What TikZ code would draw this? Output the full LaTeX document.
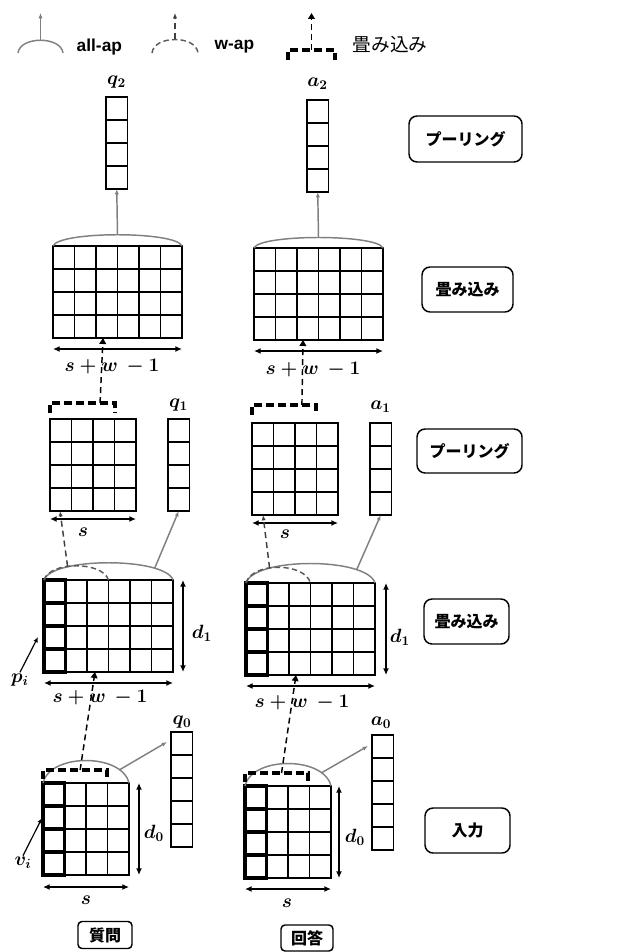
\documentclass[tikz,border=0pt]{standalone}
\usepackage{fontspec}
\setsansfont{Liberation Sans}
\newfontfamily\jp{Noto Sans CJK JP}
\usetikzlibrary{arrows.meta,calc}

\newcommand\cellw{16.125pt}
\newcommand\cellh{17.25pt}
% cell lines inside a feature map node: name, columns, rows
\newcommand\gridof[3]{%
  \foreach \i in {1,...,#2} \draw[line width=1pt] ($(#1.north west)+(\i*21.5,0)$) -- ++(0,#3*23);
  \foreach \j in {1,...,#3} \draw[line width=1pt] ($(#1.north west)+(0,\j*23)$) -- ++(#2*21.5,0);}
% thick first column
\newcommand\boldof[2]{%
  \foreach \j in {1,...,#2} \draw[line width=2.4pt] ($(#1.north west)+(0,\j*23-23)$) rectangle ++(21.5,23);}
\newcommand\swlen{$s+w\,-1$}
\tikzset{
  fm/.style 2 args={draw,line width=1pt,inner sep=0pt,outer sep=0pt,anchor=north west,
    minimum width=#1*\cellw,minimum height=#2*\cellh},
  stage/.style={draw,line width=1.1pt,rounded corners=6pt,font=\jp\bfseries\fontsize{12}{14}\selectfont},
  lbl/.style={font=\boldmath\fontsize{14}{16}\selectfont,inner sep=1pt},
  allap/.style={draw=black!50,line width=1.1pt},
  wap/.style={draw=black!65,line width=1.1pt,dash pattern=on 4pt off 2.5pt},
  allto/.style={black!50,line width=1.1pt,-{Latex[length=4pt,width=3.2pt]}},
  wapto/.style={black!75,line width=1.1pt,dash pattern=on 4.5pt off 3pt,-{Latex[length=4pt,width=3.2pt]}},
  convto/.style={line width=1.1pt,dash pattern=on 4.5pt off 3pt,-{Triangle[length=4.5pt,width=5pt]}},
  conv/.style={line width=2.4pt,dash pattern=on 6pt off 3pt},
  dim/.style={line width=1.1pt,{Latex[length=5pt,width=4.5pt]}-{Latex[length=5pt,width=4.5pt]}},
  pointer/.style={line width=0.9pt,-{Latex[length=4pt,width=3.5pt]}}
}

\begin{document}
\begin{tikzpicture}[x=0.75pt,y=-0.75pt]
\useasboundingbox (0,0) rectangle (622,952);
% legend
\draw[allap] (18,53) .. controls (20,36) and (61,36) .. coordinate[pos=0.5] (legall) (63,53);
\coordinate (legalltip) at (40.5,13);
\draw[allto] (legall) -- (legalltip);
\node[anchor=west,font=\sffamily\bfseries\fontsize{13}{15}\selectfont] (legalltxt) at (72,47) {all-ap};
\draw[wap] (152,53) .. controls (154,35) and (196,35) .. coordinate[pos=0.5] (legw) (198,53);
\coordinate (legwtip) at (175,13);
\draw[wapto] (legw) -- (legwtip);
\node[anchor=west,font=\sffamily\bfseries\fontsize{13}{15}\selectfont] (legwtxt) at (210,47) {w-ap};
\draw[conv] (288,60) -- (288,50) -- coordinate[pos=0.5] (legc) (335,50) -- (335,60);
\coordinate (legctip) at (311.5,13);
\draw[convto] (legc) -- (legctip);
\node[anchor=west,font=\jp\fontsize{14}{16}\selectfont] (legctxt) at (348,45) {畳み込み};

% pooling 2
\node[fm={1}{4}] (q2) at (106,97) {};
\gridof{q2}{1}{4}
\node[lbl] (q2l) at (116.5,82) {$q_2$};
\node[fm={1}{4}] (a2) at (307,100) {};
\gridof{a2}{1}{4}
\node[lbl] (a2l) at (317.5,84) {$a_2$};
\node[stage,minimum width=84.75pt,minimum height=34.5pt] (pool2) at (465.5,139) {プーリング};

% convolution 2
\node[fm={6}{4}] (c2q) at (53,246) {};
\gridof{c2q}{6}{4}
\draw[allap] (c2q.north west) .. controls +(6,-15) and +(-6,-15) .. coordinate[pos=0.5] (c2qall) (c2q.north east);
\draw[allto] (c2qall) -- (q2.south);
\draw[dim] ([yshift=-8.25pt]c2q.south west) -- ([yshift=-8.25pt]c2q.south east);
\node[lbl] (c2qw) at (112,367) {\swlen};
\node[fm={6}{4}] (c2a) at (254,248) {};
\gridof{c2a}{6}{4}
\draw[allap] (c2a.north west) .. controls +(6,-14) and +(-6,-14) .. coordinate[pos=0.5] (c2aall) (c2a.north east);
\draw[allto] (c2aall) -- (a2.south);
\draw[dim] ([yshift=-8.25pt]c2a.south west) -- ([yshift=-8.25pt]c2a.south east);
\node[lbl] (c2aw) at (313,370) {\swlen};
\node[stage,minimum width=68.25pt,minimum height=33.75pt] (conv2) at (467.5,289.5) {畳み込み};

% pooling 1
\node[fm={4}{4}] (p1q) at (50,419) {};
\gridof{p1q}{4}{4}
\node[fm={1}{4}] (q1) at (168,419) {};
\gridof{q1}{1}{4}
\node[lbl] (q1l) at (178.5,405) {$q_1$};
\draw[conv] ($(p1q.north west)+(0,-6)$) -- ++(0,-10) -- coordinate[pos=0.77] (p1qconv) ++(65,0) -- ++(0,10);
\draw[convto] (p1qconv) -- ($(c2q.south west)+(50,0)$);
\draw[dim] ([yshift=-6pt]p1q.south west) -- ([yshift=-6pt]p1q.south east);
\node[lbl] (p1qs) at (83,532) {$s$};
\node[fm={4}{4}] (p1a) at (252,423) {};
\gridof{p1a}{4}{4}
\node[fm={1}{4}] (a1) at (370,423) {};
\gridof{a1}{1}{4}
\node[lbl] (a1l) at (380.5,407) {$a_1$};
\draw[conv] ($(p1a.north west)+(0,-8)$) -- ++(0,-10) -- coordinate[pos=0.78] (p1aconv) ++(64,0) -- ++(0,10);
\draw[convto] (p1aconv) -- ($(c2a.south west)+(49,0)$);
\draw[dim] ([yshift=-6pt]p1a.south west) -- ([yshift=-6pt]p1a.south east);
\node[lbl] (p1as) at (285,534) {$s$};
\node[stage,minimum width=78.75pt,minimum height=33pt] (pool1) at (469.5,451) {プーリング};

% convolution 1
\node[fm={6}{4}] (c1q) at (44,580) {};
\gridof{c1q}{6}{4}
\boldof{c1q}{4}
\draw[allap] (c1q.north west) .. controls +(8,-23) and +(-8,-23) .. coordinate[pos=0.78] (c1qall) (c1q.north east);
\draw[wap] (c1q.north west) .. controls +(6,-19) and +(-6,-19) .. coordinate[pos=0.4] (c1qw) ($(c1q.north west)+(64.5,0)$);
\draw[wapto] (c1qw) -- ($(p1q.south west)+(10,0)$);
\draw[allto] (c1qall) -- (q1.south);
\draw[dim] ([xshift=7.5pt]c1q.north east) -- ([xshift=7.5pt]c1q.south east);
\node[lbl] (c1qd) at (202,633) {$d_1$};
\node[lbl] (pi) at (20,680) {$p_i$};
\draw[pointer] (pi.north) -- ($(c1q.south west)+(-6,-35)$);
\draw[dim] ([yshift=-8.25pt]c1q.south west) -- ([yshift=-8.25pt]c1q.south east);
\node[lbl] (c1qw) at (100,698) {\swlen};
\node[fm={6}{4}] (c1a) at (246,583) {};
\gridof{c1a}{6}{4}
\boldof{c1a}{4}
\draw[allap] (c1a.north west) .. controls +(8,-26) and +(-8,-26) .. coordinate[pos=0.78] (c1aall) (c1a.north east);
\draw[wap] (c1a.north west) .. controls +(6,-21) and +(-6,-21) .. coordinate[pos=0.4] (c1aw) ($(c1a.north west)+(64.5,0)$);
\draw[wapto] (c1aw) -- ($(p1a.south west)+(11,0)$);
\draw[allto] (c1aall) -- (a1.south);
\draw[dim] ([xshift=8.25pt]c1a.north east) -- ([xshift=8.25pt]c1a.south east);
\node[lbl] (c1ad) at (400,637) {$d_1$};
\draw[dim] ([yshift=-8.25pt]c1a.south west) -- ([yshift=-8.25pt]c1a.south east);
\node[lbl] (c1aw) at (302,703) {\swlen};
\node[stage,minimum width=63.75pt,minimum height=33.75pt] (conv1) at (466.5,621.5) {畳み込み};

% input
\node[fm={4}{4}] (inq) at (43,783) {};
\gridof{inq}{4}{4}
\boldof{inq}{4}
\node[fm={1}{5}] (q0) at (171,732) {};
\gridof{q0}{1}{5}
\node[lbl] (q0l) at (182,722) {$q_0$};
\draw[allap] (inq.north west) .. controls +(7,-30) and +(-7,-30) .. coordinate[pos=0.82] (inqall) (inq.north east);
\draw[allto] (inqall) -- ($(q0.north west)+(-4,10)$);
\draw[conv] ($(inq.north west)+(0,-4)$) -- ++(0,-9) -- coordinate[pos=0.58] (inqconv) ++(64,0) -- ++(0,9);
\draw[convto] (inqconv) -- ($(c1q.south west)+(51,0)$);
\draw[dim] ([xshift=7.5pt]inq.north east) -- ([xshift=7.5pt]inq.south east);
\node[lbl] (inqd) at (154,833) {$d_0$};
\node[lbl] (vi) at (23,863) {$v_i$};
\draw[pointer] (vi.north) -- ($(inq.south west)+(-1,-57)$);
\draw[dim] ([yshift=-9pt]inq.south west) -- ([yshift=-9pt]inq.south east);
\node[lbl] (inqs) at (86,900) {$s$};
\node[stage,rounded corners=3pt,minimum width=40.5pt,minimum height=20.25pt] (quest) at (105,935) {質問};
\node[fm={4}{4}] (ina) at (245,786) {};
\gridof{ina}{4}{4}
\boldof{ina}{4}
\node[fm={1}{5}] (a0) at (372,735) {};
\gridof{a0}{1}{5}
\node[lbl] (a0l) at (381,723) {$a_0$};
\draw[allap] (ina.north west) .. controls +(7,-30) and +(-7,-30) .. coordinate[pos=0.82] (inaall) (ina.north east);
\draw[allto] (inaall) -- ($(a0.north west)+(-4,11)$);
\draw[conv] ($(ina.north west)+(0,-4)$) -- ++(0,-9) -- coordinate[pos=0.58] (inaconv) ++(63,0) -- ++(0,9);
\draw[convto] (inaconv) -- ($(c1a.south west)+(50,0)$);
\draw[dim] ([xshift=6pt]ina.north east) -- ([xshift=6pt]ina.south east);
\node[lbl] (inad) at (355,837) {$d_0$};
\draw[dim] ([yshift=-8.25pt]ina.south west) -- ([yshift=-8.25pt]ina.south east);
\node[lbl] (inas) at (287,903) {$s$};
\node[stage,rounded corners=3pt,minimum width=39pt,minimum height=19.5pt] (answ) at (307,938) {回答};
\node[stage,minimum width=63.75pt,minimum height=33.75pt] (input) at (467.5,830.5) {入力};
\end{tikzpicture}
\end{document}
